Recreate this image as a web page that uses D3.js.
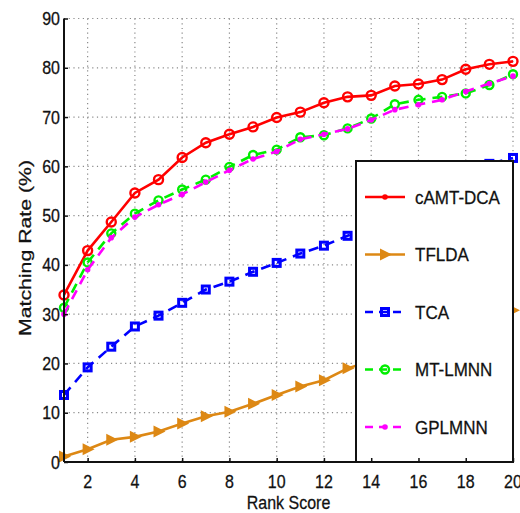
<!DOCTYPE html>
<html>
<head>
<meta charset="utf-8">
<script src="https://cdn.jsdelivr.net/npm/d3@7"></script>
<style>
  html, body { margin: 0; padding: 0; background: #fff; }
  svg { display: block; font-family: "Liberation Sans", Arial, sans-serif; }
  text { stroke: #111; stroke-width: 0.25px; }
</style>
</head>
<body>
<svg id="chart" width="520" height="513"></svg>
<script>
// Rank scores on the horizontal axis
const ranks = d3.range(1, 21);

// Matching rate (%) per method at each rank
const camtDca = [33.9, 42.9, 48.7, 54.6, 57.3, 61.8, 64.8, 66.5, 68.0, 69.9,
                 71.0, 72.9, 74.1, 74.4, 76.3, 76.7, 77.6, 79.7, 80.7, 81.3];
const tflda   = [1.1, 2.6, 4.5, 5.1, 6.2, 7.8, 9.3, 10.2, 11.8, 13.6,
                 15.3, 16.6, 19.0, 20.5, 22.0, 24.0, 26.0, 28.0, 29.5, 30.8];
const tca     = [13.6, 19.2, 23.4, 27.5, 29.7, 32.3, 35.0, 36.6, 38.6, 40.4,
                 42.3, 43.9, 45.9, 48.0, 50.5, 53.0, 55.5, 58.0, 60.5, 61.7];
const mtLmnn  = [31.3, 40.5, 46.4, 50.4, 53.1, 55.3, 57.3, 59.9, 62.3, 63.4,
                 65.9, 66.3, 67.7, 69.7, 72.6, 73.5, 74.1, 74.8, 76.5, 78.7];
const gplmnn  = [30.0, 39.0, 45.5, 49.7, 52.2, 54.3, 56.8, 59.2, 61.5, 63.0,
                 65.5, 66.5, 67.6, 69.4, 71.5, 72.5, 73.5, 75.2, 76.8, 78.3];

const seriesNames = ["cAMT-DCA", "TFLDA", "TCA", "MT-LMNN", "GPLMNN"];
const xTicks = [2, 4, 6, 8, 10, 12, 14, 16, 18, 20];
const yTicks = [0, 10, 20, 30, 40, 50, 60, 70, 80, 90];

const series = [
  { name: seriesNames[0], values: camtDca, color: "#ff0000", dash: null,    marker: "circle" },
  { name: seriesNames[1], values: tflda,   color: "#dd8814", dash: null,    marker: "triangle" },
  { name: seriesNames[2], values: tca,     color: "#0000ff", dash: "10,7",  marker: "square" },
  { name: seriesNames[3], values: mtLmnn,  color: "#00ee00", dash: "10,7",  marker: "ocircle" },
  { name: seriesNames[4], values: gplmnn,  color: "#ff00ff", dash: "10,7",  marker: "dot" }
];

const svg = d3.select("#chart");
const plotL = 64, plotR = 513, plotT = 18.5, plotB = 462;

const x = d3.scaleLinear().domain([1, 20]).range([plotL, plotR]);
const y = d3.scaleLinear().domain([0, 90]).range([plotB, plotT]);

// dotted grid
const grid = svg.append("g").attr("stroke", "#8a8a8a").attr("stroke-width", 1.2)
  .attr("stroke-dasharray", "1.2,3.5");
grid.selectAll(".gx").data(xTicks).join("line").attr("class", "gx")
  .attr("x1", d => x(d)).attr("x2", d => x(d)).attr("y1", plotT).attr("y2", plotB);
grid.selectAll(".gy").data(yTicks.filter(d => d > 0)).join("line").attr("class", "gy")
  .attr("x1", plotL).attr("x2", plotR).attr("y1", d => y(d)).attr("y2", d => y(d));

// series lines and markers
function drawMarker(g, type, color, cx, cy) {
  if (type === "circle") {
    g.append("circle").attr("cx", cx).attr("cy", cy).attr("r", 4.5)
      .attr("fill", "none").attr("stroke", color).attr("stroke-width", 2.4);
  } else if (type === "ocircle") {
    g.append("circle").attr("cx", cx).attr("cy", cy).attr("r", 4)
      .attr("fill", "none").attr("stroke", color).attr("stroke-width", 2.4);
  } else if (type === "dot") {
    g.append("circle").attr("cx", cx).attr("cy", cy).attr("r", 2.8).attr("fill", color);
  } else if (type === "square") {
    g.append("rect").attr("x", cx - 3.5).attr("y", cy - 3.5).attr("width", 7).attr("height", 7)
      .attr("fill", "none").attr("stroke", color).attr("stroke-width", 3);
  } else if (type === "triangle") {
    g.append("path").attr("d", `M${cx - 5},${cy - 6}L${cx + 7},${cy}L${cx - 5},${cy + 6}Z`)
      .attr("fill", color);
  }
}

const line = d3.line().x((d, i) => x(ranks[i])).y(d => y(d));
series.forEach(s => {
  const g = svg.append("g");
  g.append("path").datum(s.values).attr("d", line)
    .attr("fill", "none").attr("stroke", s.color).attr("stroke-width", 2.6)
    .attr("stroke-dasharray", s.dash);
  s.values.forEach((v, i) => drawMarker(g, s.marker, s.color, x(ranks[i]), y(v)));
});

// legend
const lg = svg.append("g");
lg.append("rect").attr("x", 356).attr("y", 161).attr("width", 157).attr("height", 301)
  .attr("fill", "#fff").attr("stroke", "#111").attr("stroke-width", 2);
const rowY = d3.scalePoint().domain(seriesNames).range([197, 427]);
series.forEach(s => {
  const cy = rowY(s.name);
  lg.append("line").attr("x1", 365).attr("x2", 405).attr("y1", cy).attr("y2", cy)
    .attr("stroke", s.color).attr("stroke-width", 2.6)
    .attr("stroke-dasharray", s.dash ? "8,6" : null);
  drawMarker(lg, s.marker === "circle" ? "dot" : s.marker, s.color, 385, cy);
  lg.append("text").attr("transform", `translate(415,${cy + 6.5}) scale(1,1.1)`)
    .attr("font-size", 17).attr("fill", "#111").text(s.name);
});

// axes
const axisX = svg.append("g").attr("transform", `translate(0,${plotB})`)
  .call(d3.axisBottom(x).tickValues(xTicks).tickSize(-4).tickFormat(""));
const axisY = svg.append("g").attr("transform", `translate(${plotL},0)`)
  .call(d3.axisLeft(y).tickValues(yTicks).tickSize(-4).tickFormat(""));
[axisX, axisY].forEach(a => {
  a.select(".domain").attr("stroke", "#111").attr("stroke-width", 2);
  a.selectAll(".tick line").attr("stroke", "#111").attr("stroke-width", 1.5);
});
axisX.select(".domain").attr("d", `M${plotL},0H${plotR}`);
axisY.select(".domain").attr("d", `M0,${plotT}V${plotB}`);

// tick labels
svg.append("g").selectAll("text").data(xTicks).join("text")
  .attr("transform", d => `translate(${x(d)},${488}) scale(1,1.18)`)
  .attr("text-anchor", "middle").attr("font-size", 16).attr("fill", "#111")
  .text(d => d);
svg.append("g").selectAll("text").data(yTicks).join("text")
  .attr("transform", d => `translate(60,${y(d) + 6.5}) scale(1,1.18)`)
  .attr("text-anchor", "end").attr("font-size", 16).attr("fill", "#111")
  .text(d => d);

// axis titles
svg.append("text").attr("transform", `translate(${(plotL + plotR) / 2},${509}) scale(1,1.15)`)
  .attr("text-anchor", "middle").attr("font-size", 16).attr("fill", "#111")
  .text("Rank Score");
svg.append("text").attr("transform", "translate(31,248) rotate(-90)")
  .attr("text-anchor", "middle").attr("font-size", 17).attr("fill", "#111")
  .attr("textLength", 176).attr("lengthAdjust", "spacingAndGlyphs")
  .text("Matching Rate (%)");
</script>
</body>
</html>
